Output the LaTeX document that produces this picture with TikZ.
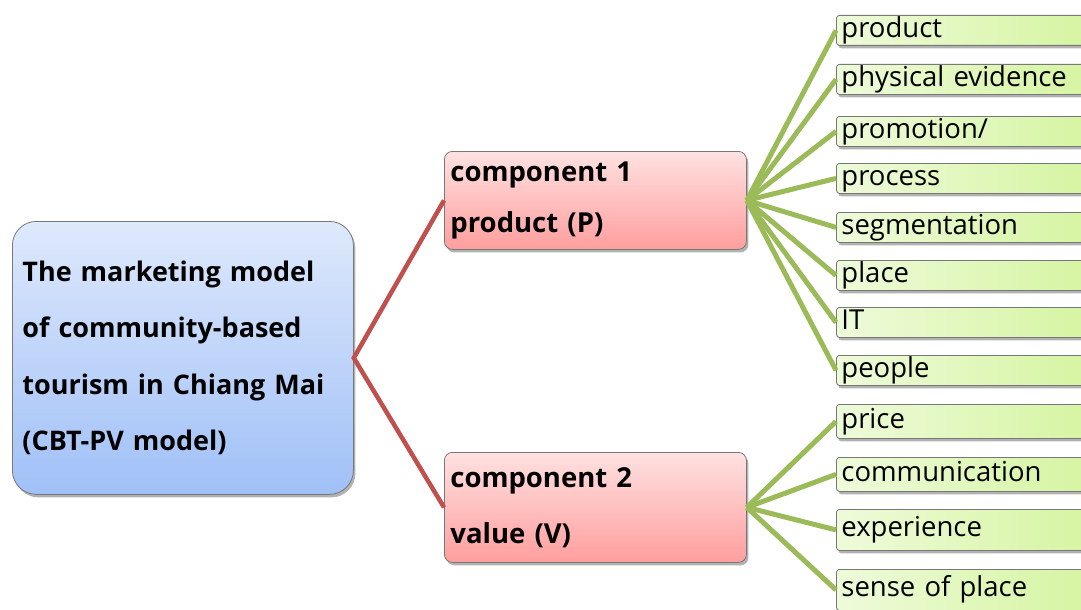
\documentclass[tikz,border=0pt]{standalone}
\usepackage{fontspec}
\setmainfont{Open Sans}
\usepackage{tikz}
\usetikzlibrary{shadows, positioning}
\definecolor{roottop}{RGB}{222, 233, 252}
\definecolor{rootbot}{RGB}{160, 192, 247}
\definecolor{comptop}{RGB}{255, 225, 225}
\definecolor{compbot}{RGB}{255, 158, 158}
\definecolor{leafleft}{RGB}{238, 251, 218}
\definecolor{leafright}{RGB}{212, 244, 158}
\definecolor{redline}{RGB}{192, 80, 77}
\definecolor{greenline}{RGB}{155, 187, 89}
\definecolor{boxedge}{RGB}{120, 120, 120}

\begin{document}
\begin{tikzpicture}[x=1pt, y=-1pt,
    softshadow/.style={drop shadow={shadow xshift=2pt, shadow yshift=-3pt, fill=black, opacity=0.3}},
    rootbox/.style={draw=boxedge, line width=0.8pt, rounded corners=24pt,
        top color=roottop, bottom color=rootbot, softshadow,
        anchor=north west, minimum height=273pt, text width=321pt,
        inner xsep=10pt, align=left, font=\bfseries\fontsize{27}{56.5}\selectfont},
    compbox/.style={draw=boxedge, line width=0.8pt, rounded corners=8pt,
        top color=comptop, bottom color=compbot, softshadow,
        anchor=north west, text width=290pt, inner xsep=6pt, align=left},
    leafbox/.style={draw=boxedge, line width=0.8pt, rounded corners=3pt,
        left color=leafleft, right color=leafright, softshadow,
        anchor=north west, text width=260pt, inner xsep=5pt, inner ysep=0pt,
        text height=21pt, text depth=7pt, align=left,
        font=\fontsize{27.5}{30}\selectfont},
    redlink/.style={redline, line width=4.5pt},
    greenlink/.style={greenline, line width=5pt}]

\clip (0,0) rectangle (1081,610);

% main model box
\node[rootbox] (model) at (12,221)
    {The marketing model\\of community-based\\tourism in Chiang Mai\\(CBT-PV model)};

% the two components
\node[compbox, minimum height=98pt, font=\bfseries\fontsize{27.5}{51}\selectfont]
    (comp1) at (444,151) {component 1\\product (P)};
\node[compbox, minimum height=110pt, font=\bfseries\fontsize{27.5}{56}\selectfont]
    (comp2) at (444,452) {component 2\\value (V)};

\draw[redlink] (comp1.west) -- (model.east) -- (comp2.west);

% elements of component 1
\foreach \i/\lbl/\ty in {1/product/15, 2/physical evidence/64, 3/{promotion/}/116,
    4/process/163, 5/segmentation/212, 6/place/260, 7/IT/307, 8/people/355} {
    \node[leafbox, minimum height=30pt] (p\i) at (836,\ty) {\lbl};
    \draw[greenlink] (comp1.east) -- (p\i.west);
}

% elements of component 2
\foreach \i/\lbl/\ty/\h in {1/price/404/34, 2/communication/457/34,
    3/experience/509/41, 4/sense of place/569/41} {
    \node[leafbox, minimum height=\h pt] (v\i) at (836,\ty) {\lbl};
    \draw[greenlink] (comp2.east) -- (v\i.west);
}

\end{tikzpicture}
\end{document}
